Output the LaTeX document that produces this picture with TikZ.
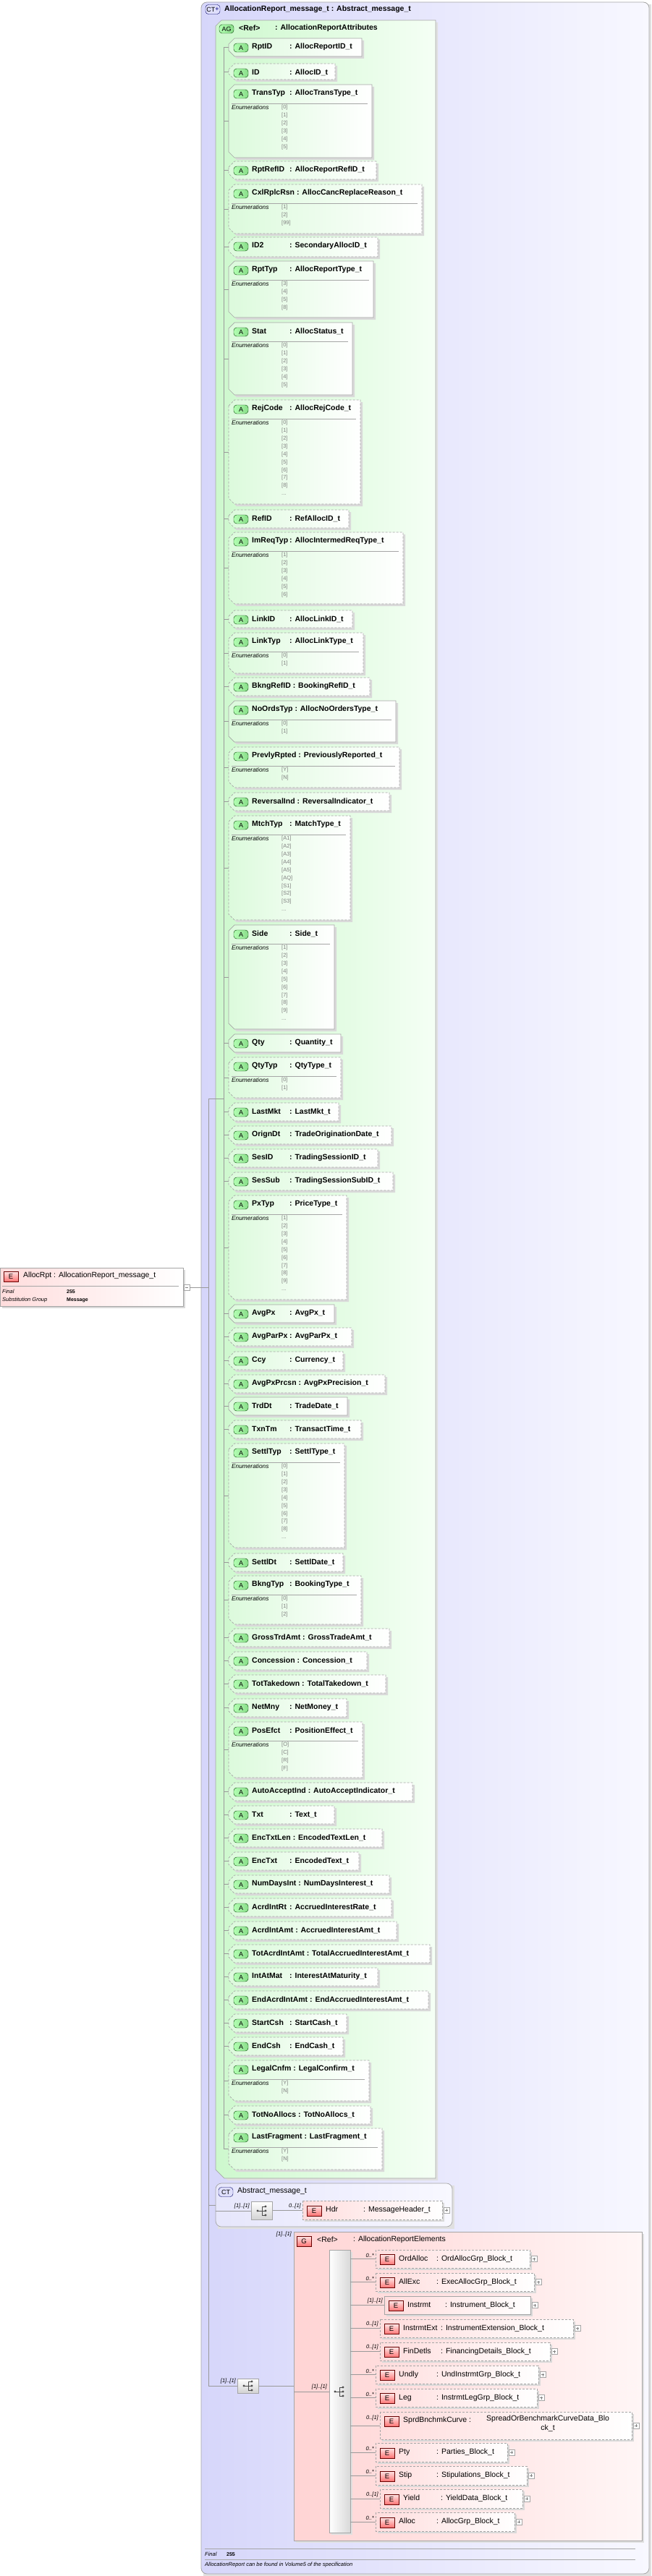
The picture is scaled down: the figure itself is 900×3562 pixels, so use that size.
\documentclass[tikz,border=0pt]{standalone}
\usepackage{fontspec}
\setmainfont{Liberation Sans}
\begin{document}
\definecolor{lav}{RGB}{214,214,250}
\definecolor{lavw}{RGB}{248,248,255}
\definecolor{grn}{RGB}{205,248,205}
\definecolor{grnw}{RGB}{245,255,245}
\definecolor{pnk}{RGB}{255,212,212}
\definecolor{pnkw}{RGB}{255,246,246}
\definecolor{bdr}{RGB}{165,165,165}
\newcommand\nmx[3]{\setbox0\hbox{#2}\ifdim\wd0<#1\hbox to #1{#2\hfil}\else\box0\ \fi: #3}
\newcommand\nl{\\\relax}
\tikzset{
 conn/.style={draw=gray!80,line width=0.6pt},
 shadow/.style={fill=black!15},
 abox/.style={draw=bdr,line width=0.7pt,left color=grn!70,right color=white},
 ebox/.style={draw=bdr,line width=0.7pt,left color=pnk!80,right color=white},
 dashedb/.style={dash pattern=on 3pt off 2pt},
 solidb/.style={},
 abadge/.style={draw=green!25!black,left color=green!30!white,right color=green!55!gray!60,minimum width=20pt,minimum height=12pt,rounded corners=4pt,inner sep=0pt,font=\fontsize{9}{9}\selectfont},
 ebadge/.style={draw=red!40!black,top color=pnk!60,bottom color=red!55!white,minimum width=20pt,minimum height=14pt,inner sep=0pt,font=\fontsize{9.5}{9.5}\selectfont},
 ctbadge/.style={draw=blue!40!black,fill=lav!80,minimum width=20pt,minimum height=13pt,rounded corners=4pt,inner sep=0pt,font=\fontsize{9}{9}\selectfont},
 atxt/.style={anchor=west,inner sep=0pt,font=\fontsize{10.5}{12}\selectfont\bfseries},
 etxt/.style={anchor=west,inner sep=0pt,font=\fontsize{10.5}{12}\selectfont},
 enlab/.style={anchor=north west,inner sep=0pt,font=\fontsize{8.3}{10}\selectfont\itshape},
 enval/.style={anchor=north west,inner sep=0pt,align=left,text=gray,font=\fontsize{7.5}{10.9}\selectfont},
 mult/.style={anchor=south east,inner sep=1pt,font=\fontsize{7.5}{8}\selectfont\itshape},
 seqicon/.style={draw=bdr,top color=white,bottom color=gray!35,minimum width=29pt,minimum height=25pt,inner sep=0pt},
}
\newcommand\attr[7]{%
 \fill[shadow] (319,#1+11) -- (327,#1+3) -- (#3+3,#1+3) -- (#3+3,#2+3) -- (327,#2+3) -- (319,#2-5) -- cycle;
 \draw[abox,#4] (316,#1+8) -- (324,#1) -- (#3,#1) -- (#3,#2) -- (324,#2) -- (316,#2-8) -- cycle;
 \node[abadge] (b#5) at (333,#1+13) {A};
 \node[atxt] (t#5) at (348,#1+12) {\nmx{52pt}{#5}{#6}};
 \draw[conn] (309,{(#1+#2)/2}) -- (316,{(#1+#2)/2});
 \ifx\relax#7\relax\else
  \draw[gray!70] (320,#1+26) -- (#3-6,#1+26);
  \node[enlab] at (320,#1+28.5) {Enumerations};
  \node[enval] at (389,#1+28) {#7};
 \fi}
% #1 x #2 right #3 top #4 bottom #5 style #6 mult #7 name #8 type #9 from-x
\newcommand\elem[9]{%
 \fill[shadow] (#1+3,#3+3) rectangle (#2+3,#4+3);
 \draw[ebox,#5] (#1,#3) rectangle (#2,#4);
 \node[ebadge] (e#7) at (#1+16,{(#3+#4)/2+1}) {E};
 \node[etxt] (n#7) at (#1+32,{(#3+#4)/2}) {\nmx{52pt}{#7}{#8}};
 \draw[bdr,fill=white] (#2+2,{(#3+#4)/2-4}) rectangle (#2+10,{(#3+#4)/2+4});
 \draw[gray] (#2+4,{(#3+#4)/2}) -- (#2+8,{(#3+#4)/2}) (#2+6,{(#3+#4)/2-2}) -- (#2+6,{(#3+#4)/2+2});
 \draw[conn] (#9,{(#3+#4)/2}) -- (#1,{(#3+#4)/2});
 \node[mult] at (#1-1,{(#3+#4)/2-1}) {#6};}
\newcommand\seqglyph[1]{%
 \fill[black!70] ($(#1)+(-6,0)$) circle (1.6pt);
 \draw[black!70,line width=0.8pt] ($(#1)+(-6,0)$) -- ($(#1)+(0,0)$) ($(#1)+(0,-6)$) -- ($(#1)+(0,6)$)
   ($(#1)+(0,-6)$) -- ($(#1)+(5,-6)$) ($(#1)+(0,0)$) -- ($(#1)+(5,0)$) ($(#1)+(0,6)$) -- ($(#1)+(5,6)$);
 \fill[black!70] ($(#1)+(5,-6)$) circle (1.6pt) ($(#1)+(5,0)$) circle (1.6pt) ($(#1)+(5,6)$) circle (1.6pt);}
\usetikzlibrary{calc}
\begin{tikzpicture}[x=1pt,y=-1pt]
\useasboundingbox (0,0) rectangle (900,3562);
% outer CT
\fill[black!12] (281,6) rectangle (900,3562);
\draw[draw=bdr,line width=0.8pt,left color=lav,right color=lavw,rounded corners=8pt] (278,3) rectangle (897,3559);
\node[ctbadge] (ctp) at (294,13) {CT\raisebox{0.3pt}{\textcolor{blue!50!black}{+}}};
\node[atxt] (ttl) at (310,13) {AllocationReport\_message\_t : Abstract\_message\_t};
% AG box
\fill[black!12] (301,31) -- (605,31) -- (605,3015) -- (315,3015) -- (301,3001) -- cycle;
\draw[draw=bdr,line width=0.7pt,left color=grn,right color=grnw] (306,28) -- (602,28) -- (602,3012) -- (310,3012) -- (298,3000) -- (298,36) -- cycle;
\node[abadge] (ag) at (313,40) {AG};
\node[atxt] (agr) at (330,39) {<Ref>};
\node[atxt] (agt) at (380,39) {: AllocationReportAttributes};
% spines
\draw[conn] (309,65) -- (309,2972);
\draw[conn] (288,1519) -- (288,3299);
\draw[conn] (288,1519) -- (309,1519);
\attr{53}{78}{500}{solidb}{RptID}{AllocReportID\_t}{}
\attr{88}{110}{463}{dashedb}{ID}{AllocID\_t}{}
\attr{117}{218}{514}{solidb}{TransTyp}{AllocTransType\_t}{[0]\nl[1]\nl[2]\nl[3]\nl[4]\nl[5]}
\attr{223}{248}{520}{dashedb}{RptRefID}{AllocReportRefID\_t}{}
\attr{255}{323}{583}{dashedb}{CxlRplcRsn}{AllocCancReplaceReason\_t}{[1]\nl[2]\nl[99]}
\attr{328}{355}{522}{dashedb}{ID2}{SecondaryAllocID\_t}{}
\attr{361}{439}{516}{solidb}{RptTyp}{AllocReportType\_t}{[3]\nl[4]\nl[5]\nl[8]}
\attr{446}{546}{487}{solidb}{Stat}{AllocStatus\_t}{[0]\nl[1]\nl[2]\nl[3]\nl[4]\nl[5]}
\attr{553}{697}{498}{dashedb}{RejCode}{AllocRejCode\_t}{[0]\nl[1]\nl[2]\nl[3]\nl[4]\nl[5]\nl[6]\nl[7]\nl[8]\nl...}
\attr{705}{730}{482}{dashedb}{RefID}{RefAllocID\_t}{}
\attr{736}{835}{557}{dashedb}{ImReqTyp}{AllocIntermedReqType\_t}{[1]\nl[2]\nl[3]\nl[4]\nl[5]\nl[6]}
\attr{844}{868}{487}{dashedb}{LinkID}{AllocLinkID\_t}{}
\attr{875}{931}{502}{dashedb}{LinkTyp}{AllocLinkType\_t}{[0]\nl[1]}
\attr{937}{962}{511}{dashedb}{BkngRefID}{BookingRefID\_t}{}
\attr{969}{1026}{547}{solidb}{NoOrdsTyp}{AllocNoOrdersType\_t}{[0]\nl[1]}
\attr{1033}{1089}{552}{dashedb}{PrevlyRpted}{PreviouslyReported\_t}{[Y]\nl[N]}
\attr{1096}{1121}{538}{dashedb}{ReversalInd}{ReversalIndicator\_t}{}
\attr{1128}{1272}{484}{dashedb}{MtchTyp}{MatchType\_t}{[A1]\nl[A2]\nl[A3]\nl[A4]\nl[A5]\nl[AQ]\nl[S1]\nl[S2]\nl[S3]\nl...}
\attr{1279}{1423}{462}{solidb}{Side}{Side\_t}{[1]\nl[2]\nl[3]\nl[4]\nl[5]\nl[6]\nl[7]\nl[8]\nl[9]\nl...}
\attr{1430}{1455}{471}{solidb}{Qty}{Quantity\_t}{}
\attr{1462}{1518}{471}{dashedb}{QtyTyp}{QtyType\_t}{[0]\nl[1]}
\attr{1525}{1550}{468}{dashedb}{LastMkt}{LastMkt\_t}{}
\attr{1557}{1582}{541}{dashedb}{OrignDt}{TradeOriginationDate\_t}{}
\attr{1589}{1614}{522}{dashedb}{SesID}{TradingSessionID\_t}{}
\attr{1621}{1646}{543}{dashedb}{SesSub}{TradingSessionSubID\_t}{}
\attr{1653}{1797}{479}{dashedb}{PxTyp}{PriceType\_t}{[1]\nl[2]\nl[3]\nl[4]\nl[5]\nl[6]\nl[7]\nl[8]\nl[9]\nl...}
\attr{1804}{1829}{462}{solidb}{AvgPx}{AvgPx\_t}{}
\attr{1836}{1861}{486}{dashedb}{AvgParPx}{AvgParPx\_t}{}
\attr{1869}{1894}{474}{dashedb}{Ccy}{Currency\_t}{}
\attr{1901}{1926}{532}{dashedb}{AvgPxPrcsn}{AvgPxPrecision\_t}{}
\attr{1932}{1957}{480}{solidb}{TrdDt}{TradeDate\_t}{}
\attr{1964}{1989}{499}{dashedb}{TxnTm}{TransactTime\_t}{}
\attr{1996}{2140}{476}{dashedb}{SettlTyp}{SettlType\_t}{[0]\nl[1]\nl[2]\nl[3]\nl[4]\nl[5]\nl[6]\nl[7]\nl[8]\nl...}
\attr{2148}{2173}{474}{dashedb}{SettlDt}{SettlDate\_t}{}
\attr{2179}{2246}{499}{dashedb}{BkngTyp}{BookingType\_t}{[0]\nl[1]\nl[2]}
\attr{2252}{2277}{538}{dashedb}{GrossTrdAmt}{GrossTradeAmt\_t}{}
\attr{2284}{2309}{507}{dashedb}{Concession}{Concession\_t}{}
\attr{2316}{2341}{533}{dashedb}{TotTakedown}{TotalTakedown\_t}{}
\attr{2349}{2374}{479}{dashedb}{NetMny}{NetMoney\_t}{}
\attr{2381}{2458}{501}{dashedb}{PosEfct}{PositionEffect\_t}{[O]\nl[C]\nl[R]\nl[F]}
\attr{2465}{2490}{570}{dashedb}{AutoAcceptInd}{AutoAcceptIndicator\_t}{}
\attr{2497}{2522}{462}{dashedb}{Txt}{Text\_t}{}
\attr{2529}{2554}{528}{dashedb}{EncTxtLen}{EncodedTextLen\_t}{}
\attr{2561}{2586}{496}{dashedb}{EncTxt}{EncodedText\_t}{}
\attr{2593}{2618}{538}{dashedb}{NumDaysInt}{NumDaysInterest\_t}{}
\attr{2625}{2650}{541}{dashedb}{AcrdIntRt}{AccruedInterestRate\_t}{}
\attr{2657}{2682}{548}{dashedb}{AcrdIntAmt}{AccruedInterestAmt\_t}{}
\attr{2689}{2714}{594}{dashedb}{TotAcrdIntAmt}{TotalAccruedInterestAmt\_t}{}
\attr{2721}{2746}{522}{dashedb}{IntAtMat}{InterestAtMaturity\_t}{}
\attr{2753}{2778}{592}{dashedb}{EndAcrdIntAmt}{EndAccruedInterestAmt\_t}{}
\attr{2785}{2810}{479}{dashedb}{StartCsh}{StartCash\_t}{}
\attr{2817}{2842}{474}{dashedb}{EndCsh}{EndCash\_t}{}
\attr{2849}{2905}{510}{dashedb}{LegalCnfm}{LegalConfirm\_t}{[Y]\nl[N]}
\attr{2912}{2937}{512}{dashedb}{TotNoAllocs}{TotNoAllocs\_t}{}
\attr{2943}{3000}{528}{dashedb}{LastFragment}{LastFragment\_t}{[Y]\nl[N]}
% AllocRpt element
\fill[shadow] (3,1756) rectangle (256,1809);
\draw[ebox] (0,1753) rectangle (253,1806);
\node[ebadge] (eAR) at (15,1765) {E};
\node[etxt] (nAR) at (32,1764) {AllocRpt : AllocationReport\_message\_t};
\draw[gray!70] (3,1778) -- (247,1778);
\node[anchor=west,inner sep=0pt,font=\fontsize{7.5}{8}\selectfont\itshape] at (3,1786) {Final};
\node[anchor=west,inner sep=0pt,font=\fontsize{7}{8}\selectfont\bfseries] at (92,1786) {255};
\node[anchor=west,inner sep=0pt,font=\fontsize{7.5}{8}\selectfont\itshape] at (3,1798) {Substitution Group};
\node[anchor=west,inner sep=0pt,font=\fontsize{7}{8}\selectfont\bfseries] at (92,1798) {Message};
\draw[bdr,fill=white] (254,1776) rectangle (262,1784);
\draw[gray] (256,1780) -- (260,1780);
\draw[conn] (262,1780) -- (288,1780);
% Abstract_message_t
\fill[black!12] (301,3022) rectangle (628,3082);
\draw[draw=bdr,line width=0.7pt,left color=lav!60,right color=lavw,rounded corners=8pt] (298,3019) rectangle (625,3079);
\node[ctbadge] (ct2) at (312,3031) {CT};
\node[etxt] (ct2t) at (328,3030) {Abstract\_message\_t};
\draw[conn] (288,3049) -- (298,3049);
\draw[conn] (298,3057) -- (348,3057);
\node[mult] at (346,3055) {[1]..[1]};
\node[seqicon] (sq1) at (362,3057) {};
\seqglyph{sq1}
\elem{418}{611}{3043}{3069}{dashedb}{0..[1]}{Hdr}{MessageHeader\_t}{377}
% G group
\fill[black!12] (409,3089) rectangle (890,3516);
\draw[draw=bdr,line width=0.7pt,left color=pnk,right color=pnkw] (406,3086) rectangle (887,3513);
\node[ebadge] (gb) at (420,3099) {G};
\node[etxt] (gr) at (438,3097) {<Ref>};
\node[etxt] (gt) at (488,3097) {: AllocationReportElements};
\node[mult] at (404,3094) {[1]..[1]};
\node[seqicon,minimum height=20pt] (sq2) at (343,3299) {};
\seqglyph{sq2}
\draw[conn] (288,3299) -- (sq2.west);
\node[mult] at (327,3297) {[1]..[1]};
\draw[conn] (sq2.east) -- (406,3299);
\draw[conn] (406,3307) -- (455,3307);
\node[mult] at (453,3305) {[1]..[1]};
\fill[black!12] (458,3114) rectangle (487,3505);
\draw[draw=bdr,left color=white,right color=gray!30] (455,3111) rectangle (484,3502);
\coordinate (sq3) at (469,3307);
\seqglyph{sq3}
\elem{519}{732}{3111}{3136}{dashedb}{0..*}{OrdAlloc}{OrdAllocGrp\_Block\_t}{484}
\elem{519}{738}{3143}{3168}{dashedb}{0..*}{AllExc}{ExecAllocGrp\_Block\_t}{484}
\elem{531}{733}{3175}{3200}{solidb}{[1]..[1]}{Instrmt}{Instrument\_Block\_t}{484}
\elem{525}{792}{3207}{3232}{dashedb}{0..[1]}{InstrmtExt}{InstrumentExtension\_Block\_t}{484}
\elem{525}{760}{3239}{3264}{dashedb}{0..[1]}{FinDetls}{FinancingDetails\_Block\_t}{484}
\elem{519}{744}{3271}{3296}{dashedb}{0..*}{Undly}{UndInstrmtGrp\_Block\_t}{484}
\elem{519}{742}{3303}{3328}{dashedb}{0..*}{Leg}{InstrmtLegGrp\_Block\_t}{484}
% SprdBnchmkCurve
\fill[shadow] (528,3338) rectangle (876,3376);
\draw[ebox,dashedb] (525,3335) rectangle (873,3373);
\node[ebadge] (eSB) at (541,3348) {E};
\node[etxt] (nSB) at (557,3347) {SprdBnchmkCurve :};
\node[anchor=north west,inner sep=0pt,align=center,font=\fontsize{10.5}{13}\selectfont] (tSB) at (672,3340) {SpreadOrBenchmarkCurveData\_Blo\\ck\_t};
\draw[bdr,fill=white] (875,3350) rectangle (883,3358);
\draw[gray] (877,3354) -- (881,3354) (879,3352) -- (879,3356);
\draw[conn] (484,3354) -- (525,3354);
\node[mult] at (524,3348) {0..[1]};
\elem{519}{701}{3378}{3404}{dashedb}{0..*}{Pty}{Parties\_Block\_t}{484}
\elem{519}{728}{3410}{3436}{dashedb}{0..*}{Stip}{Stipulations\_Block\_t}{484}
\elem{525}{722}{3442}{3468}{dashedb}{0..[1]}{Yield}{YieldData\_Block\_t}{484}
\elem{519}{711}{3474}{3500}{dashedb}{0..*}{Alloc}{AllocGrp\_Block\_t}{484}
% footer
\draw[gray!70] (283,3524) -- (878,3524);
\node[anchor=west,inner sep=0pt,font=\fontsize{7.5}{8}\selectfont\itshape] at (283,3532) {Final};
\node[anchor=west,inner sep=0pt,font=\fontsize{7}{8}\selectfont\bfseries] at (313,3532) {255};
\draw[gray!70] (283,3539) -- (878,3539);
\node[anchor=west,inner sep=0pt,font=\fontsize{7.5}{8}\selectfont\itshape] at (283,3547) {AllocationReport can be found in Volume5 of the specification};
\end{tikzpicture}
\end{document}
